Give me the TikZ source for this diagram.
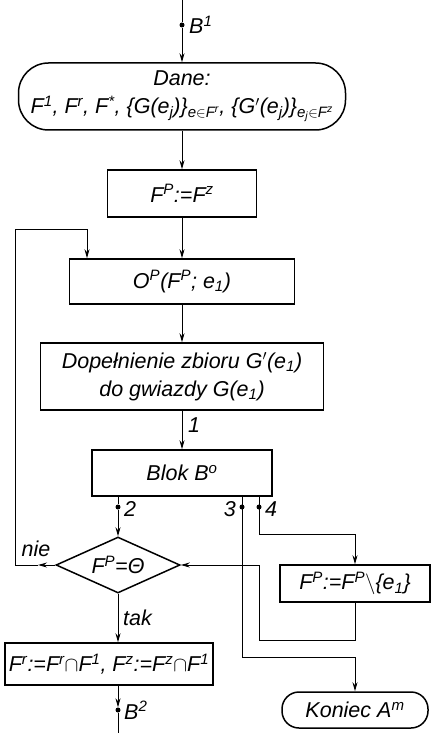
\documentclass[tikz,border=0pt]{standalone}
\usepackage{fontspec}
\setmainfont{Liberation Sans}
\usetikzlibrary{arrows.meta,shapes.geometric}
\newcommand\up[1]{\textsuperscript{#1}}
\newcommand\dn[1]{\textsubscript{#1}}
\begin{document}
\begin{tikzpicture}[x=1pt,y=-1pt,
  font=\fontsize{21.5}{28}\selectfont\itshape,
  blk/.style={draw,line width=1.5pt,inner sep=0pt,align=center},
  term/.style={blk,rounded corners=30pt},
  smallterm/.style={blk,rounded corners=17pt},
  dia/.style={draw,line width=1.5pt,diamond,aspect=2.2,inner sep=0pt},
  conn/.style={line width=1pt},
  arr/.style={conn,-{Stealth[length=9pt,width=5pt]}},
  dotmark/.style={circle,fill,inner sep=0pt,minimum size=5pt},
  lbl/.style={inner sep=1pt}]
\useasboundingbox (0,0) rectangle (433,733);
% nodes
\node[term,minimum width=327pt,minimum height=67pt] (dane) at (182,96.5)
  {Dane:\\F\up{1}, F\up{r}, F\up{*}, \{G(e\dn{j})\}\dn{e$\in$F\up{r}}, \{G$'$(e\dn{j})\}\dn{e\dn{j}$\in$F\up{z}}};
\node[blk,minimum width=149pt,minimum height=47pt] (fp) at (182,193.5) {F\up{P}:=F\up{z}};
\node[blk,minimum width=225pt,minimum height=45pt] (op) at (182,281.5) {O\up{P}(F\up{P}; e\dn{1})};
\node[blk,minimum width=283pt,minimum height=67pt] (dop) at (182,376.5)
  {Dopełnienie zbioru G$'$(e\dn{1})\\do gwiazdy G(e\dn{1})};
\node[blk,minimum width=180pt,minimum height=46pt] (blok) at (182,473) {Blok B\up{o}};
\node[dia,minimum width=124pt,minimum height=56pt] (dec) at (118,565) {F\up{P}=Θ};
\node[blk,minimum width=150pt,minimum height=37pt] (fpe) at (355,583.5) {F\up{P}:=F\up{P}$\setminus$\{e\dn{1}\}};
\node[blk,minimum width=208pt,minimum height=42pt] (fin) at (109,664)
  {F\up{r}:=F\up{r}$\cap$F\up{1}, F\up{z}:=F\up{z}$\cap$F\up{1}};
\node[smallterm,minimum width=146pt,minimum height=36pt] (kon) at (355,710) {Koniec A\up{m}};
% dots
\node[dotmark] (b1) at (182,25) {};
\node[dotmark] (d2) at (118,507) {};
\node[dotmark] (d3) at (242,507) {};
\node[dotmark] (d4) at (259,507) {};
\node[dotmark] (b2) at (118,710) {};
% coordinates
\coordinate (top) at (182,0);
\coordinate (bot) at (118,733);
\coordinate (c3a) at (242,657);
\coordinate (c3b) at (355,657);
\coordinate (c4a) at (259,534);
\coordinate (c4b) at (355,534);
\coordinate (r1) at (355,640);
\coordinate (r2) at (259,640);
\coordinate (r3) at (259,565);
\coordinate (nieA) at (38,565);
\coordinate (nieB) at (15,565);
\coordinate (loopT) at (15,229);
\coordinate (loopE) at (87,229);
% connectors
\draw[conn] (top) -- (b1);
\draw[arr] (b1) -- (dane.north);
\draw[arr] (dane.south) -- (fp.north);
\draw[arr] (fp.south) -- (op.north);
\draw[arr] (op.south) -- (dop.north);
\draw[arr] (dop.south) -- (blok.north);
\draw[conn] (blok.south -| d2) -- (d2);
\draw[arr] (d2) -- (dec.north);
\draw[conn] (blok.south -| d3) -- (c3a) -- (c3b);
\draw[arr] (c3b) -- (kon.north);
\draw[conn] (blok.south -| d4) -- (c4a) -- (c4b);
\draw[arr] (c4b) -- (fpe.north);
\draw[arr] (fpe.south) -- (r1) -- (r2) -- (r3) -- (dec.east);
\draw[arr] (dec.west) -- (nieA);
\draw[conn] (nieA) -- (nieB) -- (loopT) -- (loopE);
\draw[arr] (loopE) -- (loopE |- op.north);
\draw[arr] (dec.south) -- (dec.south |- fin.north);
\draw[arr] (fin.south -| b2) -- (b2);
\draw[conn] (b2) -- (bot);
% labels
\node[lbl,anchor=west] at (188,25) {B\up{1}};
\node[lbl,anchor=west] at (187,425) {1};
\node[lbl,anchor=west] at (123,509) {2};
\node[lbl,anchor=east] at (237,509) {3};
\node[lbl,anchor=west] at (264,509) {4};
\node[lbl] at (36,549) {nie};
\node[lbl,anchor=west] at (122,618) {tak};
\node[lbl,anchor=west] at (123,710) {B\up{2}};
\end{tikzpicture}
\end{document}
